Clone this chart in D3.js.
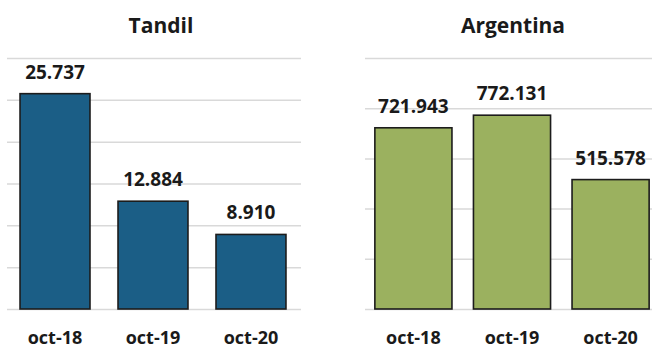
<!DOCTYPE html>
<html>
<head>
<meta charset="utf-8">
<script src="https://cdn.jsdelivr.net/npm/d3@7"></script>
<style>
  html, body { margin: 0; padding: 0; background: #fff; }
  svg { display: block; }
  text { font-family: "Open Sans", "DejaVu Sans", sans-serif; font-weight: 700; fill: #1a1a1a; }
</style>
</head>
<body>
<svg id="chart" width="652" height="349"></svg>
<script>
// Fechas de cada panel
const categories = ["oct-18", "oct-19", "oct-20"];

// Valores por panel
const tandilValues = [25737, 12884, 8910];
const argentinaValues = [721943, 772131, 515578];

// Marcas de la escala vertical (solo líneas de guía)
const tandilTicks = [0, 5000, 10000, 15000, 20000, 25000, 30000];
const argentinaTicks = [0, 200000, 400000, 600000, 800000, 1000000];

const titles = ["Tandil", "Argentina"];

const svg = d3.select("#chart");
const fmt = v => d3.format(",")(v).replace(/,/g, ".");

function panel(cfg) {
  const g = svg.append("g");
  const x = d3.scaleBand()
    .domain(categories)
    .range([cfg.x0, cfg.x1])
    .paddingInner(cfg.pi)
    .paddingOuter(cfg.po);
  const y = d3.scaleLinear()
    .domain([0, d3.max(cfg.ticks)])
    .range([309, 58]);

  // líneas de guía horizontales
  const grid = g.append("g")
    .attr("transform", `translate(${cfg.gx0},0)`)
    .call(d3.axisLeft(y).tickValues(cfg.ticks).tickSize(-(cfg.gx1 - cfg.gx0)).tickFormat(""));
  grid.select(".domain").remove();
  grid.selectAll(".tick line").attr("stroke", "#d9d9d9").attr("stroke-width", 1.5);

  // barras
  g.selectAll("rect.bar")
    .data(cfg.values)
    .join("rect")
    .attr("class", "bar")
    .attr("x", (d, i) => x(categories[i]))
    .attr("width", x.bandwidth())
    .attr("y", d => y(d))
    .attr("height", d => y(0) - y(d))
    .attr("fill", cfg.color)
    .attr("stroke", "#1c1c1c")
    .attr("stroke-width", 1.6);

  // etiquetas de valor
  g.selectAll("text.val")
    .data(cfg.values)
    .join("text")
    .attr("class", "val")
    .attr("x", (d, i) => x(categories[i]) + x.bandwidth() / 2)
    .attr("y", d => y(d) - 15)
    .attr("text-anchor", "middle")
    .style("font-size", "19px")
    .text(d => fmt(d));

  // eje de categorías
  const xa = g.append("g")
    .attr("transform", "translate(0,309)")
    .call(d3.axisBottom(x).tickSize(0).tickPadding(0));
  xa.select(".domain").remove();
  xa.selectAll(".tick text")
    .attr("dy", null)
    .attr("y", 35)
    .style("font-size", "18px")
    .style("font-family", "\"Open Sans\", sans-serif")
    .style("font-weight", "700")
    .attr("fill", "#1a1a1a");

  // título
  g.append("text")
    .attr("x", cfg.tx)
    .attr("y", 33)
    .attr("text-anchor", "middle")
    .style("font-size", "21px")
    .text(cfg.title);
}

panel({
  title: titles[0], values: tandilValues, ticks: tandilTicks,
  x0: 7, x1: 299, pi: 0.286, po: 0.133, gx0: 7, gx1: 301,
  color: "#1b5e86", tx: 161
});

panel({
  title: titles[1], values: argentinaValues, ticks: argentinaTicks,
  x0: 365, x1: 659, pi: 0.218, po: 0.1, gx0: 365, gx1: 652,
  color: "#9bb15f", tx: 513
});
</script>
</body>
</html>
